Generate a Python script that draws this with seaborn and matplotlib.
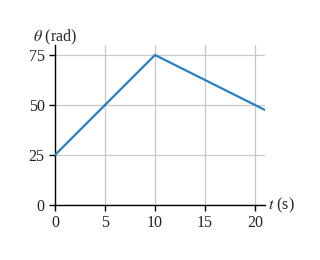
import matplotlib
matplotlib.use("Agg")
import matplotlib.pyplot as plt
import seaborn as sns
import pandas as pd

t_vals = [0, 10, 21]
theta_vals = [25, 75, 47.5]
x_ticks = [0, 5, 10, 15, 20]
y_ticks = [0, 25, 50, 75]

sns.set_style("white")
plt.rcParams['font.family'] = ['Liberation Serif', 'DejaVu Serif']
plt.rcParams['mathtext.fontset'] = 'stix'

df = pd.DataFrame({"t": t_vals, "theta": theta_vals})

fig = plt.figure(figsize=(3.2, 2.6), dpi=100)
ax = fig.add_axes([55/320, 55/260, 210/320, 160/260])
sns.lineplot(data=df, x="t", y="theta", ax=ax, color="#2382c4", linewidth=1.6, zorder=3)
ax.set_xlim(0, 21)
ax.set_ylim(0, 80)
ax.set_xticks(x_ticks)
ax.set_yticks(y_ticks)
ax.grid(True, color="#c8c8c8", linewidth=0.9)
ax.set_axisbelow(True)
for s in ["top", "right"]:
    ax.spines[s].set_visible(False)
for s in ["left", "bottom"]:
    ax.spines[s].set_color("black")
    ax.spines[s].set_linewidth(1.0)
ax.tick_params(axis="both", bottom=True, left=True, direction="out", length=4.5, width=1.0,
               color="black", labelsize=11.5, pad=3, labelcolor="#222222")
ax.set_xlabel("")
ax.set_ylabel("")
fig.text(33/320, 1 - 37/260, r"$\theta$ (rad)", fontsize=11.5, va="center", ha="left", color="#222222")
fig.text(268/320, 1 - 205/260, r"$t$ (s)", fontsize=11.5, va="center", ha="left", color="#222222")
fig.savefig("out.png", dpi=100)
